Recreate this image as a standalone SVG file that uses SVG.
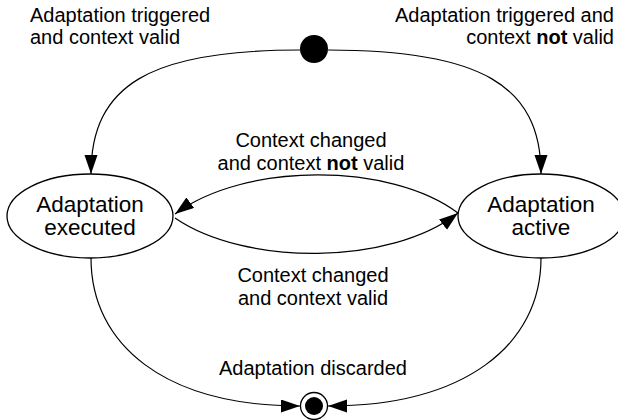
<svg xmlns="http://www.w3.org/2000/svg" width="618" height="420" viewBox="0 0 618 420">
  <style>
    text { font-family: "Liberation Sans", Arial, sans-serif; fill: #000; }
    .label { font-size: 20px; }
    .state-text { font-size: 22.5px; text-anchor: middle; }
    .state { fill: #fff; stroke: #000; stroke-width: 1.3; }
    .edge { fill: none; stroke: #000; stroke-width: 1.2; marker-end: url(#arrow); }
    .b { font-weight: bold; }
  </style>
  <defs>
    <marker id="arrow" markerUnits="userSpaceOnUse" markerWidth="20" markerHeight="14" refX="19" refY="6.5" orient="auto">
      <path d="M0,0 L19,6.5 L0,13 z" fill="#000"/>
    </marker>
  </defs>
  <rect width="618" height="420" fill="#fff"/>

  <g id="connectors">
    <path class="edge" d="M300,50 C150,50 91,85 91,174"/>
    <path class="edge" d="M328,50 C480,50 541,85 541,174"/>
    <path class="edge" d="M458,213 C390,162 245,162 175,214"/>
    <path class="edge" d="M175,218 C245,266 390,266 458,213"/>
    <path class="edge" d="M91,258 C91,345 165,406 300,406"/>
    <path class="edge" d="M541,258 C541,345 465,406 328,406"/>
  </g>

  <g id="labels">
    <text class="label" x="30" y="22">Adaptation triggered</text>
    <text class="label" x="30" y="44">and context valid</text>
    <text class="label" x="614" y="22" text-anchor="end">Adaptation triggered and</text>
    <text class="label" x="614" y="44" text-anchor="end">context <tspan class="b">not</tspan> valid</text>
    <text class="label" x="311" y="147" text-anchor="middle">Context changed</text>
    <text class="label" x="311" y="170" text-anchor="middle">and context <tspan class="b">not</tspan> valid</text>
    <text class="label" x="313" y="282" text-anchor="middle">Context changed</text>
    <text class="label" x="313" y="305" text-anchor="middle">and context valid</text>
    <text class="label" x="313" y="375" text-anchor="middle">Adaptation discarded</text>
  </g>

  <g id="initial">
    <circle cx="314" cy="49" r="14" fill="#000"/>
  </g>

  <g id="executed">
    <ellipse class="state" cx="90" cy="216" rx="83" ry="42"/>
    <text class="state-text" x="90" y="212">Adaptation</text>
    <text class="state-text" x="90" y="235">executed</text>
  </g>

  <g id="active">
    <ellipse class="state" cx="541" cy="216" rx="83" ry="42"/>
    <text class="state-text" x="541" y="212">Adaptation</text>
    <text class="state-text" x="541" y="235">active</text>
  </g>

  <g id="final">
    <circle class="state" cx="314" cy="406" r="13.5"/>
    <circle cx="314" cy="406" r="9" fill="#000"/>
  </g>
</svg>
